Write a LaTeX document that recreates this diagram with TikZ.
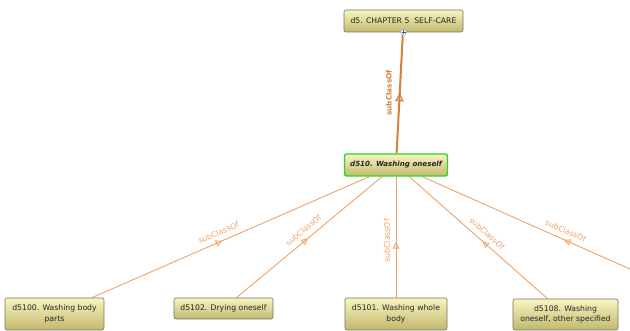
\documentclass[tikz,border=0pt]{standalone}
\usepackage{fontspec}
\setmainfont{DejaVu Sans}
\usetikzlibrary{arrows.meta,decorations.markings,backgrounds}

\definecolor{edgeorange}{RGB}{238,162,104}
\definecolor{strongorange}{RGB}{214,128,58}
\definecolor{boxtop}{RGB}{247,245,192}
\definecolor{boxbottom}{RGB}{194,184,110}
\definecolor{boxline}{RGB}{115,115,100}
\definecolor{selgreen}{RGB}{40,215,30}
\definecolor{plusblue}{RGB}{70,90,120}

\tikzset{
  concept/.style={draw=boxline, line width=0.6pt, rounded corners=2pt,
    top color=boxtop, bottom color=boxbottom, inner sep=1pt, align=center,
    font=\fontsize{7.7}{10.5}\selectfont, text=black!85},
  selected/.style={concept, draw=selgreen, line width=1.3pt,
    font=\fontsize{7.1}{9}\selectfont\bfseries\itshape},
  subedge/.style={draw=edgeorange, line width=0.9pt},
  mainedge/.style={draw=strongorange, line width=2pt},
  backtip/.style={postaction={decorate, decoration={markings,
    mark=at position #1 with {\arrowreversed[line width=0.8pt]{Triangle[open,length=6.5pt,width=6.5pt]}}}}},
  fwdtip/.style={postaction={decorate, decoration={markings,
    mark=at position #1 with {\arrow[line width=1.2pt]{Triangle[open,length=8.5pt,width=8.5pt]}}}}},
  rel/.style={font=\fontsize{7.8}{8}\selectfont, text=edgeorange, inner sep=5.5pt},
  mainrel/.style={font=\fontsize{7.3}{8}\selectfont\bfseries, text=strongorange, inner sep=7pt},
}

\begin{document}
\begin{tikzpicture}[x=1pt,y=-1pt]
\useasboundingbox (0,0) rectangle (630,331);

% class boxes
\node[concept, minimum width=119pt, minimum height=22pt] (chapter) at (403.5,21) {d5. CHAPTER 5\ \ SELF-CARE};
\node[selected, minimum width=103pt, minimum height=22pt] (wash) at (396,165) {d510. Washing oneself};
\node[concept, minimum width=99pt, minimum height=32pt] (body) at (54.5,314) {d5100. Washing body\\parts};
\node[concept, minimum width=99pt, minimum height=21pt] (dry) at (223.5,308.5) {d5102. Drying oneself};
\node[concept, minimum width=102pt, minimum height=32pt] (whole) at (396,314) {d5101. Washing whole\\body};
\node[concept, minimum width=105pt, minimum height=31pt] (other) at (565.5,314.5) {d5108. Washing\\oneself, other specified};
\coordinate (offright) at (631,269.5);

% expand marker under the chapter box
\node[circle, draw=plusblue!60, fill=white, line width=0.5pt, inner sep=0pt, minimum size=6pt] (expand) at (chapter.south) {};
\draw[plusblue, line width=0.8pt] ([yshift=-2pt]expand.center) -- ([yshift=2pt]expand.center)
  ([xshift=-2pt]expand.center) -- ([xshift=2pt]expand.center);

\begin{pgfonlayer}{background}
  % subClassOf relations
  \draw[mainedge, fwdtip=0.5] (wash) -- (chapter)
    node[mainrel, pos=0.5, rotate=90, anchor=south] {subClassOf};
  \draw[subedge, backtip=0.53] (wash) -- (body)
    node[rel, pos=0.53, sloped, above] {subClassOf};
  \draw[subedge, backtip=0.51] (wash) -- (dry)
    node[rel, pos=0.5, sloped, above] {subClassOf};
  \draw[subedge, backtip=0.54] (wash) -- (whole)
    node[rel, pos=0.53, rotate=90, anchor=south] {subClassOf};
  \draw[subedge, backtip=0.53] (wash) -- (other)
    node[rel, pos=0.52, sloped, above] {subClassOf};
  \draw[subedge, backtip=0.68] (wash) -- (offright)
    node[rel, pos=0.67, sloped, above] {subClassOf};
\end{pgfonlayer}
\end{tikzpicture}
\end{document}
